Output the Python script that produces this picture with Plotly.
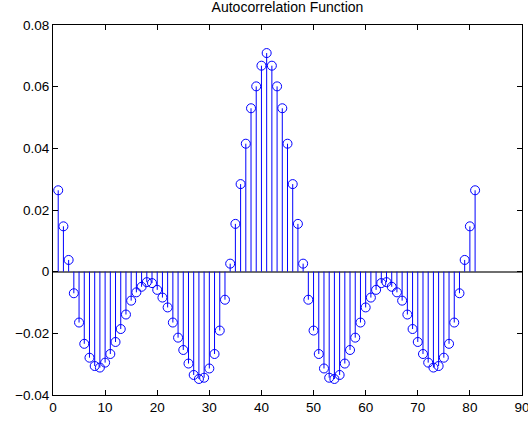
import plotly.graph_objects as go

lags = list(range(1, 82))
half = [0.0264, 0.0147, 0.0038, -0.0070, -0.0165, -0.0234, -0.0279, -0.0306, -0.0311,
        -0.0295, -0.0267, -0.0228, -0.0186, -0.0139, -0.0094, -0.0067, -0.0049, -0.0034,
        -0.0037, -0.0059, -0.0084, -0.0116, -0.0165, -0.0214, -0.0254, -0.0298, -0.0335,
        -0.0348, -0.0344, -0.0314, -0.0267, -0.0191, -0.0091, 0.0026, 0.0155, 0.0284,
        0.0415, 0.0530, 0.0601, 0.0668, 0.0709]
acf = half + half[-2::-1]

xticks = [0, 10, 20, 30, 40, 50, 60, 70, 80, 90]
yticks = [-0.04, -0.02, 0, 0.02, 0.04, 0.06, 0.08]

sx, sy = [], []
for x, v in zip(lags, acf):
    sx += [x, x, None]
    sy += [0, v, None]

blue = "rgb(0,0,255)"
fig = go.Figure()
fig.add_trace(go.Scatter(x=sx, y=sy, mode="lines", line=dict(color=blue, width=1),
                         hoverinfo="skip", showlegend=False, cliponaxis=False))
fig.add_trace(go.Scatter(x=lags, y=acf, mode="markers",
                         marker=dict(symbol="circle-open", size=9, color=blue,
                                     line=dict(width=1, color=blue)),
                         showlegend=False, cliponaxis=False))

fig.update_layout(
    width=528, height=422,
    margin=dict(l=53, r=6, t=25, b=27, autoexpand=False),
    paper_bgcolor="white", plot_bgcolor="white",
    font=dict(family="Liberation Sans, Arial, sans-serif", size=13.5, color="black"),
    title=dict(text="Autocorrelation Function", xref="paper", x=0.5, xanchor="center",
               yref="container", y=0.995, yanchor="top", font=dict(size=14)),
)
fig.update_xaxes(range=[0, 90], tickvals=xticks, ticks="inside", ticklen=5,
                 tickcolor="black", showline=True, linecolor="black", linewidth=1,
                 mirror="ticks", showgrid=False, zeroline=False, automargin=False,
                 ticklabeloverflow="allow")
fig.update_yaxes(range=[-0.04, 0.08], tickvals=yticks, ticks="inside", ticklen=5,
                 tickcolor="black", showline=True, linecolor="black", linewidth=1,
                 mirror="ticks", showgrid=False, zeroline=True, automargin=False,
                 zerolinecolor="#6e6e6e", zerolinewidth=1.5, ticklabeloverflow="allow")

fig.write_html("out.html", config={"displayModeBar": False},
               post_script="document.body.style.margin='0';document.body.style.overflow='hidden';")
